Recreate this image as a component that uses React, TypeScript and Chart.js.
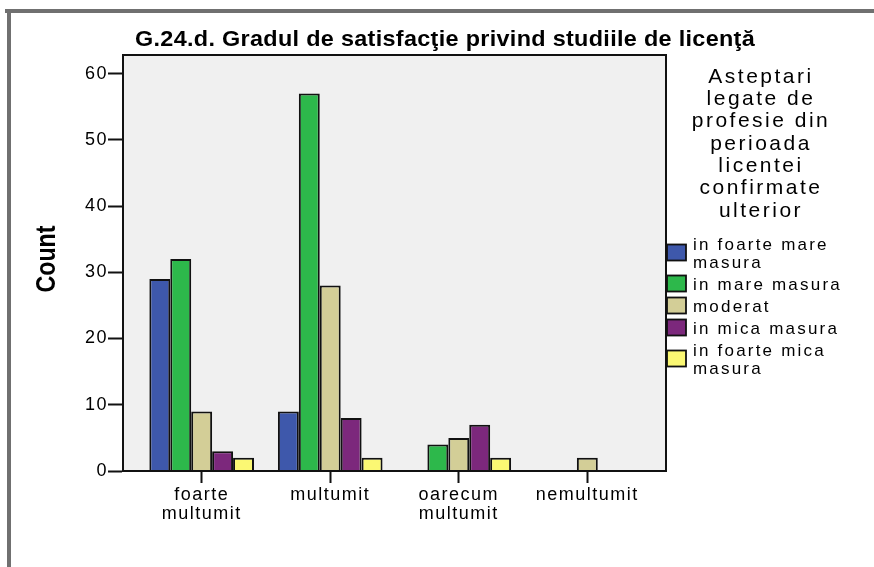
import React, { useEffect, useRef } from 'react';
import { Chart, registerables } from 'chart.js';

Chart.register(...registerables);

// ---------- data ----------
const titleText = 'G.24.d. Gradul de satisfacţie privind studiile de licenţă';
const yAxisTitle = 'Count';
const legendTitle = 'Asteptari legate de profesie din perioada licentei confirmate ulterior';
const categories = ['foarte multumit', 'multumit', 'oarecum multumit', 'nemultumit'];
const seriesNames = ['in foarte mare masura', 'in mare masura', 'moderat', 'in mica masura', 'in foarte mica masura'];
const seriesColors = ['#3E58AB', '#2DB84B', '#D3CE97', '#7C287C', '#FBF873'];
const foarteMareMasura = [29, 9, null, null];
const mareMasura = [32, 57, 4, null];
const moderat = [9, 28, 5, 2];
const micaMasura = [3, 8, 7, null];
const foarteMicaMasura = [2, 2, 2, null];
const yTicks = [0, 10, 20, 30, 40, 50, 60];
const yMax = 62.8;
const xPad = 0.612;

const seriesValues = [foarteMareMasura, mareMasura, moderat, micaMasura, foarteMicaMasura];

const SANS = "'Liberation Sans', Arial, sans-serif";

function wrap(ctx: CanvasRenderingContext2D, text: string, maxW: number): string[] {
  const words = text.split(' ');
  const lines: string[] = [];
  let cur = '';
  for (const w of words) {
    const t = cur ? cur + ' ' + w : w;
    if (cur && ctx.measureText(t).width > maxW) {
      lines.push(cur);
      cur = w;
    } else cur = t;
  }
  if (cur) lines.push(cur);
  return lines;
}

function drawScaledText(ctx: CanvasRenderingContext2D, text: string, x: number, y: number, targetW: number) {
  const w = ctx.measureText(text).width;
  const sx = targetW / w;
  ctx.save();
  ctx.translate(x, y);
  ctx.scale(sx, 1);
  ctx.fillText(text, 0, 0);
  ctx.restore();
}

const decorPlugin = {
  id: 'decor',
  beforeDraw(chart: any) {
    const { ctx, chartArea: a } = chart;
    ctx.save();
    ctx.fillStyle = '#ffffff';
    ctx.fillRect(0, 0, chart.width, chart.height);
    ctx.fillStyle = '#F0F0F0';
    ctx.fillRect(a.left, a.top, a.right - a.left, a.bottom - a.top);
    ctx.fillStyle = '#707070';
    ctx.fillRect(5, 9, 869, 4);
    ctx.fillRect(7, 9, 4, 558);
    ctx.restore();
    (ctx as any).letterSpacing = '1.5px';
  },
  afterDatasetsDraw(chart: any) {
    const { ctx, chartArea: a } = chart;
    ctx.save();
    ctx.strokeStyle = '#111111';
    ctx.lineWidth = 2;
    ctx.strokeRect(a.left, a.top, a.right - a.left, a.bottom - a.top);
    ctx.restore();
  },
  afterDraw(chart: any) {
    const { ctx, chartArea: a } = chart;
    ctx.save();
    ctx.fillStyle = '#000';
    ctx.textAlign = 'center';
    ctx.textBaseline = 'middle';
    // title
    (ctx as any).letterSpacing = '0.3px';
    ctx.font = `bold 22px ${SANS}`;
    drawScaledText(ctx, titleText, 445, 40, 620);
    // y axis title
    ctx.save();
    ctx.translate(47, 259);
    ctx.rotate(-Math.PI / 2);
    (ctx as any).letterSpacing = '0px';
    ctx.font = `bold 28px ${SANS}`;
    drawScaledText(ctx, yAxisTitle, 0, 0, 67);
    ctx.restore();
    // legend title
    (ctx as any).letterSpacing = '2.5px';
    ctx.font = `21px ${SANS}`;
    const tl = wrap(ctx, legendTitle, 150);
    tl.forEach((l, i) => ctx.fillText(l, 761, 77 + i * 22.3));
    // legend items
    (ctx as any).letterSpacing = '2.2px';
    ctx.font = `17px ${SANS}`;
    ctx.textAlign = 'left';
    let y = 245;
    chart.data.datasets.forEach((ds: any) => {
      const lines = wrap(ctx, ds.label, 178);
      const mid = y + ((lines.length - 1) * 18) / 2 - 1.5;
      ctx.fillStyle = ds.backgroundColor;
      ctx.fillRect(a.right + 1, mid - 8, 19, 16);
      ctx.strokeStyle = '#111';
      ctx.lineWidth = 1.8;
      ctx.strokeRect(a.right + 1, mid - 8, 19, 16);
      ctx.fillStyle = '#000';
      lines.forEach((l, i) => ctx.fillText(l, a.right + 27, y + i * 18));
      y += lines.length * 18 + 4;
    });
    ctx.restore();
    (ctx as any).letterSpacing = '0px';
  },
};

export default function App() {
  const ref = useRef<HTMLCanvasElement>(null);
  useEffect(() => {
    const chart = new Chart(ref.current as HTMLCanvasElement, {
      type: 'bar',
      data: {
        datasets: seriesNames.map((name, s) => ({
          label: name,
          data: seriesValues[s].map((v, i) => ({ x: i, y: v })) as any,
          backgroundColor: seriesColors[s],
          borderColor: '#111111',
          borderWidth: 2,
          categoryPercentage: 0.814,
          barPercentage: 1,
        })),
      },
      options: {
        responsive: false,
        animation: false,
        devicePixelRatio: 1,
        layout: { padding: { left: 0, right: 208, top: 55, bottom: 0 } },
        plugins: { legend: { display: false }, tooltip: { enabled: false }, title: { display: false } },
        scales: {
          x: {
            type: 'linear',
            min: -xPad,
            max: categories.length - 1 + xPad,
            offset: false,
            afterBuildTicks: (scale: any) => {
              scale.ticks = categories.map((_, i) => ({ value: i }));
            },
            afterFit: (scale: any) => {
              scale.height = 96;
            },
            grid: { offset: false, drawOnChartArea: false, tickLength: 12, tickWidth: 2, tickColor: '#111' },
            border: { display: true, color: '#111', width: 2 },
            ticks: {
              color: '#000',
              padding: 2,
              maxRotation: 0,
              autoSkip: false,
              font: { family: SANS, size: 18, lineHeight: 1.07 },
              callback: (v: any) => {
                const c = categories[Math.round(Number(v))];
                return c ? c.split(' ') : '';
              },
            },
          },
          y: {
            min: 0,
            max: yMax,
            afterBuildTicks: (scale: any) => {
              scale.ticks = yTicks.map((v) => ({ value: v }));
            },
            afterFit: (scale: any) => {
              scale.width = 123;
            },
            grid: { drawOnChartArea: false, tickLength: 15, tickWidth: 2, tickColor: '#111' },
            border: { display: true, color: '#111', width: 2 },
            ticks: {
              color: '#000',
              padding: 0,
              font: { family: SANS, size: 18 },
            },
          },
        },
      },
      plugins: [decorPlugin],
    });
    return () => chart.destroy();
  }, []);
  return (
    <div style={{ position: 'fixed', left: 0, top: 0, width: 874, height: 567, background: '#fff' }}>
      <canvas ref={ref} width={874} height={567} style={{ display: 'block', width: 874, height: 567 }} />
    </div>
  );
}
